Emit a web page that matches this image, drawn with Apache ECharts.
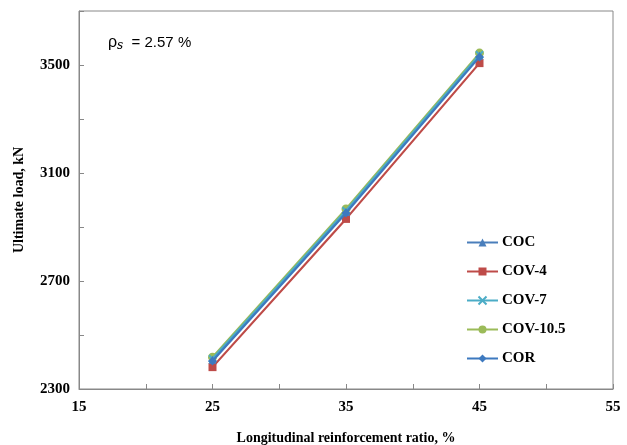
<!DOCTYPE html>
<html><head><meta charset="utf-8">
<script src="https://cdn.jsdelivr.net/npm/echarts@6/dist/echarts.min.js"></script>
<style>html,body{margin:0;padding:0;background:#fff}#c{width:627px;height:445px}</style>
</head><body><div id="c"></div>
<script>
const xValues = [25, 35, 45];
const seriesNames = ['COC', 'COV-4', 'COV-7', 'COV-10.5', 'COR'];
const COC = [2408, 2956, 3535];
const COV4 = [2381, 2930, 3507];
const COV7 = [2412, 2960, 3538];
const COV105 = [2418, 2967, 3544];
const COR = [2404, 2952, 3530];
const xTicks = [15, 25, 35, 45, 55];
const yTicks = [2300, 2700, 3100, 3500];

const seriesData = [COC, COV4, COV7, COV105, COR];
const colors = ['#4A7EBB', '#BE4B48', '#4BACC6', '#9BBB59', '#3D79BF'];
const symbols = ['triangle', 'rect', 'path://M0,0L2,2M2,0L0,2', 'circle', 'diamond'];
const sizes = [8, 8, 7, 9, 9];

const chart = echarts.init(document.getElementById('c'));
const serifBold = {fontFamily: 'Liberation Serif', fontWeight: 'bold', fontSize: 15, color: '#000'};
chart.setOption({
  animation: false,
  grid: {left: 79, right: 14, top: 11, bottom: 56, containLabel: false, outerBoundsMode: 'none',
    show: true, borderColor: '#888', borderWidth: 1},
  legend: {
    orient: 'vertical', left: 461, top: 230, itemGap: 14, itemWidth: 31, itemHeight: 10,
    textStyle: Object.assign({}, serifBold, {fontSize: 15, padding: [0, 0, 0, -1]}),
    data: seriesNames
  },
  xAxis: {
    type: 'value', min: 15, max: 55, interval: 5,
    name: 'Longitudinal reinforcement ratio, %', nameLocation: 'middle', nameGap: 42,
    nameTextStyle: Object.assign({}, serifBold, {fontSize: 14}),
    axisLine: {lineStyle: {color: '#888'}},
    axisTick: {inside: true, length: 5, lineStyle: {color: '#888'}},
    axisLabel: Object.assign({}, serifBold, {margin: 11, formatter: v => xTicks.includes(v) ? String(v) : ''}),
    splitLine: {show: false}
  },
  yAxis: {
    type: 'value', min: 2300, max: 3700, interval: 200,
    name: 'Ultimate load, kN', nameLocation: 'middle', nameGap: 53, nameRotate: 90,
    nameTextStyle: Object.assign({}, serifBold, {fontSize: 14}),
    axisLine: {lineStyle: {color: '#888'}},
    axisTick: {inside: true, length: 5, lineStyle: {color: '#888'}},
    axisLabel: Object.assign({}, serifBold, {margin: 9, formatter: v => yTicks.includes(v) ? String(v) : ''}),
    splitLine: {show: false}
  },
  graphic: [{
    type: 'text', left: 108, top: 35,
    style: {
      rich: {
        r: {fontFamily: 'Liberation Sans', fontSize: 16, fill: '#000'},
        s: {fontFamily: 'DejaVu Serif', fontStyle: 'italic', fontSize: 12, fill: '#000', verticalAlign: 'bottom', padding: [6, 0, 0, 0]},
        t: {fontFamily: 'Liberation Sans', fontSize: 15, fill: '#000'}
      },
      text: '{r|ρ}{s|s}{t|  = 2.57 %}'
    }
  }],
  series: seriesNames.map((n, i) => ({
    name: n, type: 'line',
    data: xValues.map((x, j) => [x, seriesData[i][j]]),
    symbol: symbols[i], symbolSize: sizes[i],
    lineStyle: {width: 2.2, color: colors[i]},
    itemStyle: {color: colors[i], borderColor: colors[i], borderWidth: i === 2 ? 2 : 0},
    z: [3, 2, 4, 1, 5][i]
  }))
});
</script></body></html>
